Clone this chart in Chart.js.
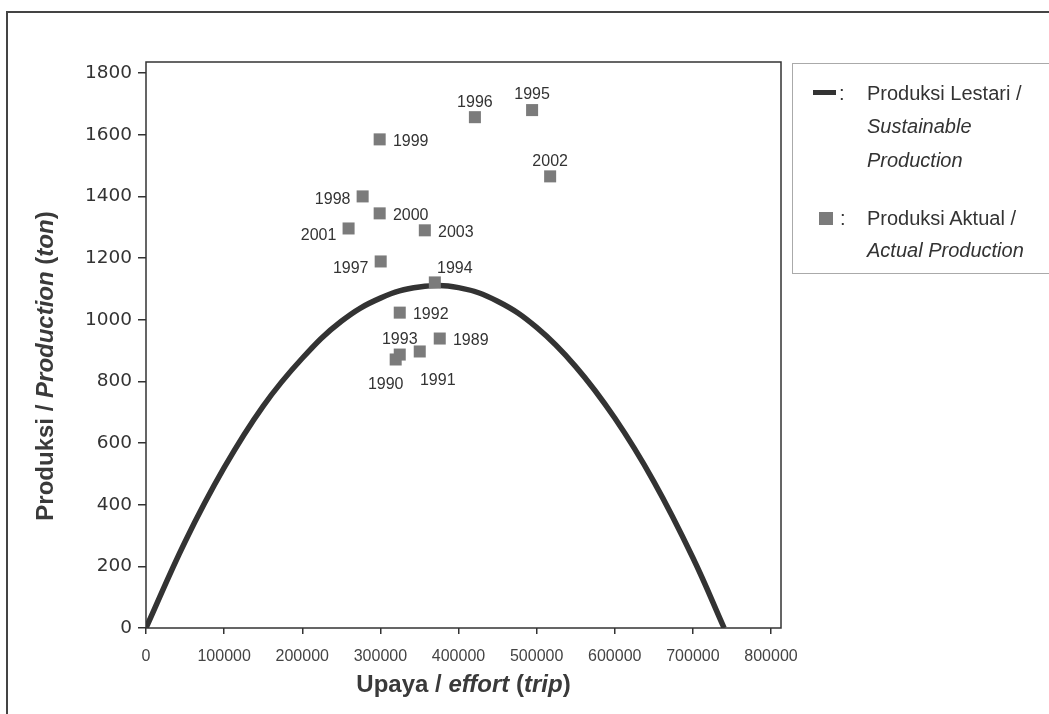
<!DOCTYPE html>
<html>
<head>
<meta charset="utf-8">
<script src="https://cdn.jsdelivr.net/npm/chart.js@4.4.1/dist/chart.umd.min.js"></script>
<style>
  html, body { margin:0; padding:0; background:#fff; }
  #wrap { position:relative; width:1049px; height:714px; overflow:hidden; font-family:"Liberation Sans", Arial, sans-serif; color:#333; }
  #c { position:absolute; left:0; top:0; }
  .frame { position:absolute; left:6px; top:11px; width:1100px; height:800px; border-left:2px solid #444; border-top:2px solid #444; }
  .xtitle { position:absolute; left:146px; width:635px; top:672px; line-height:24px; text-align:center; font-weight:bold; font-size:24px; color:#3a3a3a; white-space:nowrap; }
  .ytitle { position:absolute; left:-155px; width:400px; top:354px; line-height:24px; height:24px; text-align:center; font-weight:bold; font-size:24px; color:#3a3a3a; transform:rotate(-90deg); transform-origin:50% 50%; white-space:nowrap; }
  .legend { position:absolute; left:792px; top:63px; width:260px; height:209px; border:1px solid #aaa; }
  .lg { position:absolute; font-size:20px; line-height:20px; color:#333; white-space:nowrap; }
  .sw-line { position:absolute; left:813px; top:90px; width:23px; height:5px; background:#333; }
  .sw-sq { position:absolute; left:819px; top:212px; width:14px; height:13px; background:#7b7b7b; }
</style>
</head>
<body>
<div id="wrap">
  <canvas id="c" width="1049" height="714"></canvas>
  <div class="frame"></div>
  <div class="ytitle">Produksi / <i>Production</i> (<i>ton</i>)</div>
  <div class="xtitle">Upaya / <i>effort</i> (<i>trip</i>)</div>
  <div class="legend"></div>
  <div class="sw-line"></div>
  <div class="lg" style="left:839px;top:83px">:</div>
  <div class="lg" style="left:867px;top:83px">Produksi Lestari /</div>
  <div class="lg" style="left:867px;top:116px"><i>Sustainable</i></div>
  <div class="lg" style="left:867px;top:150px"><i>Production</i></div>
  <div class="sw-sq"></div>
  <div class="lg" style="left:840px;top:208px">:</div>
  <div class="lg" style="left:867px;top:208px">Produksi Aktual /</div>
  <div class="lg" style="left:867px;top:240px"><i>Actual Production</i></div>
</div>
<script>
// data
const years      = ['1989','1990','1991','1992','1993','1994','1995','1996','1997','1998','1999','2000','2001','2002','2003'];
const effort     = [376000, 319600, 350400, 324800, 324800, 369700, 494200, 421000, 300400, 277300, 299100, 299100, 259300, 517300, 356900];
const production = [939, 871, 897, 1023, 887, 1121, 1680, 1657, 1189, 1400, 1585, 1345, 1296, 1465, 1290];
// which side of the square the year label sits on
const labelSide  = ['e','sw','se','e','n','ne','n','n','wl','w','e','e','wl','n','e'];

// sustainable production curve
const curveEffort     = [0, 50000, 100000, 150000, 200000, 250000, 300000, 350000, 400000, 450000, 500000, 550000, 600000, 650000, 700000, 740000];
const curveProduction = [0, 280, 520, 720, 875, 995, 1070, 1106, 1104, 1060, 975, 848, 681, 475, 228, 0];

const xTickVals = [0, 100000, 200000, 300000, 400000, 500000, 600000, 700000, 800000];
const yTickVals = [0, 200, 400, 600, 800, 1000, 1200, 1400, 1600, 1800];

const SIDE = {
  n:  [0, -15],
  e:  [31, 2],
  w:  [-30, 3],
  wl: [-30, 7],
  ne: [20, -14],
  sw: [-10, 25],
  se: [18, 29]
};

const boxPlugin = {
  id: 'box',
  beforeDatasetsDraw(chart){
    const {ctx, chartArea:a} = chart;
    ctx.save();
    ctx.strokeStyle = '#333';
    ctx.lineWidth = 1.5;
    ctx.strokeRect(a.left, a.top, a.right - a.left, a.bottom - a.top);
    ctx.restore();
  }
};

const yearLabels = {
  id: 'yearLabels',
  afterDatasetsDraw(chart){
    const ctx = chart.ctx;
    const meta = chart.getDatasetMeta(0);
    ctx.save();
    ctx.font = '16px "Liberation Sans", Arial, sans-serif';
    ctx.fillStyle = '#333';
    ctx.textAlign = 'center';
    ctx.textBaseline = 'middle';
    meta.data.forEach((el, i) => {
      const off = SIDE[labelSide[i]] || [0, -15];
      ctx.fillText(years[i], el.x + off[0], el.y + off[1]);
    });
    ctx.restore();
  }
};

new Chart(document.getElementById('c'), {
  type: 'scatter',
  data: {
    datasets: [
      {
        label: 'Produksi Aktual / Actual Production',
        data: effort.map((e, i) => ({x: e, y: production[i]})),
        pointStyle: 'rect',
        pointRadius: 8.5,
        backgroundColor: '#7b7b7b',
        borderColor: '#7b7b7b',
        borderWidth: 0,
        order: 0
      },
      {
        label: 'Produksi Lestari / Sustainable Production',
        data: curveEffort.map((e, i) => ({x: e, y: curveProduction[i]})),
        showLine: true,
        pointRadius: 0,
        borderColor: '#333',
        borderWidth: 5.5,
        tension: 0.4,
        order: 1
      }
    ]
  },
  options: {
    responsive: false,
    animation: false,
    layout: { padding: { left: 0, top: 62, right: 268, bottom: 0 } },
    plugins: { legend: { display: false }, tooltip: { enabled: false } },
    scales: {
      x: {
        type: 'linear',
        min: 0,
        max: 812800,
        afterBuildTicks: s => { s.ticks = xTickVals.map(v => ({value: v})); },
        afterFit: s => { s.height = 86; },
        border: { display: false },
        grid: { drawOnChartArea: false, drawTicks: true, tickLength: 6, color: '#333', lineWidth: 1.5 },
        ticks: {
          padding: 13,
          maxRotation: 0,
          autoSkip: false,
          color: '#444',
          font: { family: '"Liberation Sans", Arial, sans-serif', size: 16 },
          callback: v => String(v)
        }
      },
      y: {
        min: 0,
        max: 1836,
        afterBuildTicks: s => { s.ticks = yTickVals.map(v => ({value: v})); },
        afterFit: s => { s.width = 146; },
        border: { display: false },
        grid: { drawOnChartArea: false, drawTicks: true, tickLength: 8, color: '#333', lineWidth: 1.5 },
        ticks: {
          padding: 6,
          autoSkip: false,
          color: '#333',
          font: { family: '"DejaVu Sans", Verdana, sans-serif', size: 18.5 },
          callback: v => String(v)
        }
      }
    }
  },
  plugins: [boxPlugin, yearLabels]
});
</script>
</body>
</html>
